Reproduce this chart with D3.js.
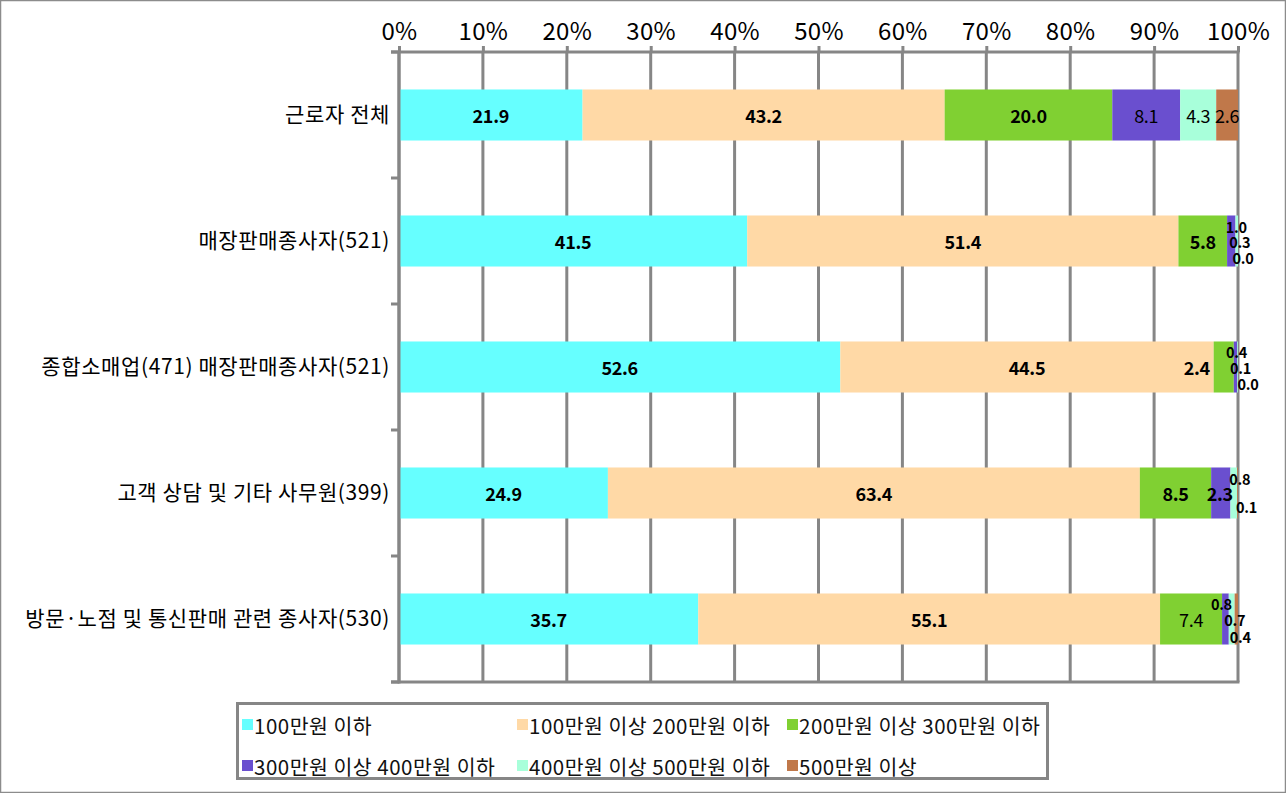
<!DOCTYPE html>
<html><head><meta charset="utf-8">
<script src="https://cdn.jsdelivr.net/npm/d3@7/dist/d3.min.js"></script>
<style>
html,body{margin:0;padding:0;background:#fff;}
svg{display:block;}
text{font-family:"Noto Sans CJK KR","Noto Sans",sans-serif;}
</style></head>
<body><svg id="c" width="1286" height="793"></svg>
<script>
// ---- data ----
const categories = ["근로자 전체","매장판매종사자(521)","종합소매업(471) 매장판매종사자(521)","고객 상담 및 기타 사무원(399)","방문·노점 및 통신판매 관련 종사자(530)"];
const seriesNames = ["100만원 이하","100만원 이상 200만원 이하","200만원 이상 300만원 이하","300만원 이상 400만원 이하","400만원 이상 500만원 이하","500만원 이상"];
const s1 = [21.9, 41.5, 52.6, 24.9, 35.7];
const s2 = [43.2, 51.4, 44.5, 63.4, 55.1];
const s3 = [20.0, 5.8, 2.4, 8.5, 7.4];
const s4 = [8.1, 1.0, 0.4, 2.3, 0.8];
const s5 = [4.3, 0.3, 0.1, 0.8, 0.7];
const s6 = [2.6, 0.0, 0.0, 0.1, 0.4];
const tickValues = [0,10,20,30,40,50,60,70,80,90,100];

// ---- styles / layout ----
const colors = ["#66FFFF","#FFD9A6","#80D032","#6A4FCF","#A8FFDA","#C0784A"];
const gridColor = "#868686";
// label nudges for crowded tiny segments: key "row-series" -> [dx, dy]
const nudge = {
  "1-3":[5,-15],"1-4":[3,0],"1-5":[5,16],
  "2-2":[-27,0],"2-3":[1,-16],"2-4":[3,0],"2-5":[10,16],
  "3-3":[-1,0],"3-4":[6,-15],"3-5":[9,13],
  "4-3":[-4,-16],"4-4":[3,0],"4-5":[4,17]
};
const regular = new Set(["0-3","0-4","0-5","4-2"]);
const narrow = new Set(["0-5","3-3"]);
const stacked = new Set(["1-3","1-4","1-5","2-3","2-4","2-5","3-4","3-5","4-3","4-4","4-5"]);
const narrowFont = "'Liberation Sans Narrow','Arial Narrow','Noto Sans CJK KR',sans-serif";

const allSeries = [s1,s2,s3,s4,s5,s6];
const svg = d3.select("#c");

// outer border
svg.append("rect").attr("x",0.5).attr("y",0.5).attr("width",1285).attr("height",792)
  .attr("fill","#fff").attr("stroke","#8c8c8c").attr("stroke-width",1.5);

const x = d3.scaleLinear().domain([0,100]).range([399,1238]);
const y = d3.scaleBand().domain(categories).range([52,682]).paddingInner(0.595).paddingOuter(0.2975);

// gridlines
svg.append("g").selectAll("line").data(tickValues).join("line")
  .attr("x1",d=>x(d)).attr("x2",d=>x(d)).attr("y1",52).attr("y2",682)
  .attr("stroke",gridColor).attr("stroke-width",3);

// bars
const rows = categories.map((c,i)=>{
  const vals = allSeries.map(s=>s[i]);
  const tot = d3.sum(vals);
  let cum = 0;
  return vals.map((v,j)=>{ const a = cum/tot*100; cum += v; return {row:i,ser:j,cat:c,v,x0:a,x1:cum/tot*100}; });
});
const segs = rows.flat();
svg.append("g").selectAll("rect").data(segs).join("rect")
  .attr("x",d=>x(d.x0)).attr("width",d=>Math.max(0,x(d.x1)-x(d.x0)))
  .attr("y",d=>y(d.cat)).attr("height",y.bandwidth())
  .attr("fill",d=>colors[d.ser]);

// axes
const topAxis = d3.axisTop(x).tickValues(tickValues).tickFormat(d=>d+"%").tickSize(6).tickPadding(8);
const ga = svg.append("g").attr("transform","translate(0,52)").call(topAxis);
ga.select(".domain").remove();
ga.selectAll(".tick line").attr("stroke",gridColor).attr("stroke-width",3);
ga.selectAll(".tick text").attr("font-size",24).attr("fill","#000")
  .style("font-family","'Noto Sans CJK KR',sans-serif").attr("dy","0.1em").attr("letter-spacing",0.3);
svg.append("line").attr("x1",391).attr("x2",1239.5).attr("y1",52).attr("y2",52).attr("stroke",gridColor).attr("stroke-width",3);
svg.append("line").attr("x1",391).attr("x2",1239.5).attr("y1",682).attr("y2",682).attr("stroke",gridColor).attr("stroke-width",3);

// left axis
const leftAxis = d3.axisLeft(y).tickSize(0).tickPadding(9);
const gl = svg.append("g").attr("transform","translate(399,0)").call(leftAxis);
gl.select(".domain").remove();
gl.selectAll(".tick text").attr("font-size",21).attr("letter-spacing",0.6).attr("fill","#000");
svg.append("line").attr("x1",399).attr("x2",399).attr("y1",52).attr("y2",683.5).attr("stroke",gridColor).attr("stroke-width",3);
const bounds = categories.map(c=>y(c)-y.step()*y.paddingInner()/2).concat([682]);
svg.append("g").selectAll("line").data(bounds).join("line")
  .attr("x1",391).attr("x2",399).attr("y1",d=>d).attr("y2",d=>d)
  .attr("stroke",gridColor).attr("stroke-width",3);

// value labels
svg.append("g").selectAll("text").data(segs).join("text")
  .attr("x",d=>{const k=d.row+"-"+d.ser; return x((d.x0+d.x1)/2)+(nudge[k]?nudge[k][0]:0);})
  .attr("y",d=>{const k=d.row+"-"+d.ser; return y(d.cat)+y.bandwidth()/2+(nudge[k]?nudge[k][1]:0);})
  .attr("text-anchor","middle").attr("dominant-baseline","central")
  .style("font-family",d=>{const k=d.row+"-"+d.ser; return (stacked.has(k)||narrow.has(k))?narrowFont:null;})
  .attr("font-size",d=>{const k=d.row+"-"+d.ser; return stacked.has(k)?14.5:18;})
  .attr("letter-spacing",d=>{const k=d.row+"-"+d.ser; return (stacked.has(k)||narrow.has(k))?-0.3:-0.3;})
  .attr("font-weight",d=>regular.has(d.row+"-"+d.ser)?400:700)
  .attr("fill","#000")
  .text(d=>d.v.toFixed(1));

// legend
svg.append("rect").attr("x",237.5).attr("y",703.5).attr("width",810).attr("height",75)
  .attr("fill","#fff").attr("stroke",gridColor).attr("stroke-width",3);
const legX = [242,517,787], legY = [725,766];
const lg = svg.append("g").selectAll("g").data(seriesNames).join("g")
  .attr("transform",(d,i)=>`translate(${legX[i%3]},${legY[Math.floor(i/3)]})`);
lg.append("rect").attr("x",0).attr("y",-6).attr("width",11).attr("height",11).attr("fill",(d,i)=>colors[i]);
lg.append("text").attr("x",12).attr("y",0).attr("dominant-baseline","central")
  .attr("font-size",20.5).attr("letter-spacing",0.5).attr("fill","#111").text(d=>d);
</script></body></html>
